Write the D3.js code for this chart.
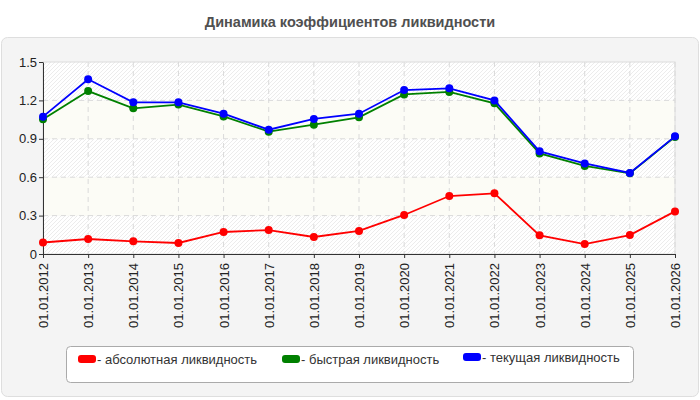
<!DOCTYPE html>
<html>
<head>
<meta charset="utf-8">
<script src="https://cdn.jsdelivr.net/npm/d3@7"></script>
<style>
  body { margin: 0; background: #fff; }
  svg { display: block; font-family: "Liberation Sans", Arial, sans-serif; }
</style>
</head>
<body>
<svg id="chart" width="700" height="400"></svg>
<script>
// даты (подписи оси X)
const dates = ['01.01.2012', '01.01.2013', '01.01.2014', '01.01.2015', '01.01.2016',
  '01.01.2017', '01.01.2018', '01.01.2019', '01.01.2020', '01.01.2021',
  '01.01.2022', '01.01.2023', '01.01.2024', '01.01.2025', '01.01.2026'];

// коэффициенты ликвидности
const absolute = [0.09, 0.117, 0.099, 0.086, 0.172, 0.187, 0.133, 0.18, 0.305, 0.453, 0.474, 0.146, 0.078, 0.148, 0.333];
const quick = [1.052, 1.273, 1.138, 1.167, 1.075, 0.956, 1.01, 1.068, 1.247, 1.266, 1.177, 0.786, 0.688, 0.63, 0.915];
const current = [1.073, 1.365, 1.185, 1.185, 1.096, 0.971, 1.055, 1.096, 1.281, 1.294, 1.2, 0.802, 0.708, 0.633, 0.919];

const yTicks = [0, 0.3, 0.6, 0.9, 1.2, 1.5];

const series = [
  { name: 'абсолютная ликвидность', values: absolute, color: '#ff0000' },
  { name: 'быстрая ликвидность', values: quick, color: '#008000' },
  { name: 'текущая ликвидность', values: current, color: '#0000ff' }
];

const svg = d3.select('#chart');

const margin = { top: 62, left: 43, right: 25, bottom: 146 };
const width = 700, height = 400;
const boundsWidth = width - margin.left - margin.right;
const boundsHeight = height - margin.top - margin.bottom;

// фон панели
svg.append('rect')
  .attr('x', 1.5).attr('y', 37.5)
  .attr('width', 697).attr('height', 359)
  .attr('rx', 6)
  .attr('fill', '#f4f4f4')
  .attr('stroke', '#dedede');

// заголовок
svg.append('text')
  .attr('x', width / 2).attr('y', 27)
  .attr('text-anchor', 'middle')
  .style('font-size', '14.5px')
  .style('font-weight', 'bold')
  .style('fill', '#505050')
  .text('Динамика коэффициентов ликвидности');

// штриховка
const defs = svg.append('defs');
const pat = defs.append('pattern')
  .attr('id', 'hatch')
  .attr('patternUnits', 'userSpaceOnUse')
  .attr('width', 4).attr('height', 4);
pat.append('rect').attr('width', 4).attr('height', 4).attr('fill', '#fff');
pat.append('path')
  .attr('d', 'M-1,1 l2,-2 M0,4 l4,-4 M3,5 l2,-2')
  .attr('stroke', '#ececec')
  .attr('stroke-width', 1);

const scaleX = d3.scalePoint()
  .domain(dates)
  .range([0, boundsWidth]);

const scaleY = d3.scaleLinear()
  .domain([0, 1.5])
  .range([boundsHeight, 0]);

const g = svg.append('g')
  .attr('transform', `translate(${margin.left}, ${margin.top})`);

// полосы фона
for (let i = 0; i < yTicks.length - 1; i++) {
  g.append('rect')
    .attr('x', 0)
    .attr('y', scaleY(yTicks[i + 1]))
    .attr('width', boundsWidth)
    .attr('height', scaleY(yTicks[i]) - scaleY(yTicks[i + 1]))
    .attr('fill', i % 2 == 0 ? 'url(#hatch)' : '#fcfcf6');
}

// рамка области графика
g.append('rect')
  .attr('x', 0).attr('y', 0)
  .attr('width', boundsWidth).attr('height', boundsHeight)
  .attr('fill', 'none')
  .attr('stroke', '#dcdcdc');

// сетка
g.selectAll('.vgrid')
  .data(dates.slice(1))
  .enter()
  .append('line')
  .attr('x1', d => scaleX(d)).attr('x2', d => scaleX(d))
  .attr('y1', 0).attr('y2', boundsHeight)
  .attr('stroke', '#dadada')
  .attr('stroke-dasharray', '5,4');

g.selectAll('.hgrid')
  .data(yTicks.slice(1, -1))
  .enter()
  .append('line')
  .attr('x1', 0).attr('x2', boundsWidth)
  .attr('y1', d => scaleY(d)).attr('y2', d => scaleY(d))
  .attr('stroke', '#dadada')
  .attr('stroke-dasharray', '5,4');

// оси
const xAxis = d3.axisBottom(scaleX).tickSize(4).tickSizeOuter(0);
const xg = g.append('g')
  .attr('transform', `translate(0, ${boundsHeight})`)
  .call(xAxis);
xg.select('.domain').attr('stroke', '#333');
xg.selectAll('.tick line').attr('stroke', '#333');
xg.selectAll('text')
  .style('text-anchor', 'end')
  .style('font-size', '13px')
  .style('fill', '#222')
  .attr('x', -9)
  .attr('y', 0)
  .attr('dy', '0.35em')
  .attr('transform', 'rotate(-90)');

const yAxis = d3.axisLeft(scaleY)
  .tickValues(yTicks)
  .tickFormat(d => d == 0 ? '0' : d3.format('.1f')(d))
  .tickSize(4).tickSizeOuter(0);
const yg = g.append('g').call(yAxis);
yg.select('.domain').attr('stroke', '#333');
yg.selectAll('.tick line').attr('stroke', '#333');
yg.selectAll('text')
  .style('font-size', '13px')
  .style('fill', '#222')
  .attr('x', -6);

// линии и точки
const line = d3.line()
  .x((d, i) => scaleX(dates[i]))
  .y(d => scaleY(d));

series.forEach(s => {
  g.append('path')
    .datum(s.values)
    .attr('d', line)
    .attr('fill', 'none')
    .attr('stroke', s.color)
    .attr('stroke-width', 1.8);

  g.selectAll(null)
    .data(s.values)
    .enter()
    .append('circle')
    .attr('cx', (d, i) => scaleX(dates[i]))
    .attr('cy', d => scaleY(d))
    .attr('r', 4)
    .attr('fill', s.color);
});

// легенда
svg.append('rect')
  .attr('x', 66.5).attr('y', 346.5)
  .attr('width', 567).attr('height', 36)
  .attr('rx', 4)
  .attr('fill', '#fff')
  .attr('stroke', '#aaa');

const legendX = [78, 282, 463];
const legendY = [355, 355, 353];
series.forEach((s, i) => {
  svg.append('rect')
    .attr('x', legendX[i]).attr('y', legendY[i])
    .attr('width', 18).attr('height', 8)
    .attr('rx', 3)
    .attr('fill', s.color);
  svg.append('text')
    .attr('x', legendX[i] + 19)
    .attr('y', legendY[i] + 9)
    .style('font-size', '13px')
    .style('fill', '#333')
    .text('- ' + s.name);
});
</script>
</body>
</html>
